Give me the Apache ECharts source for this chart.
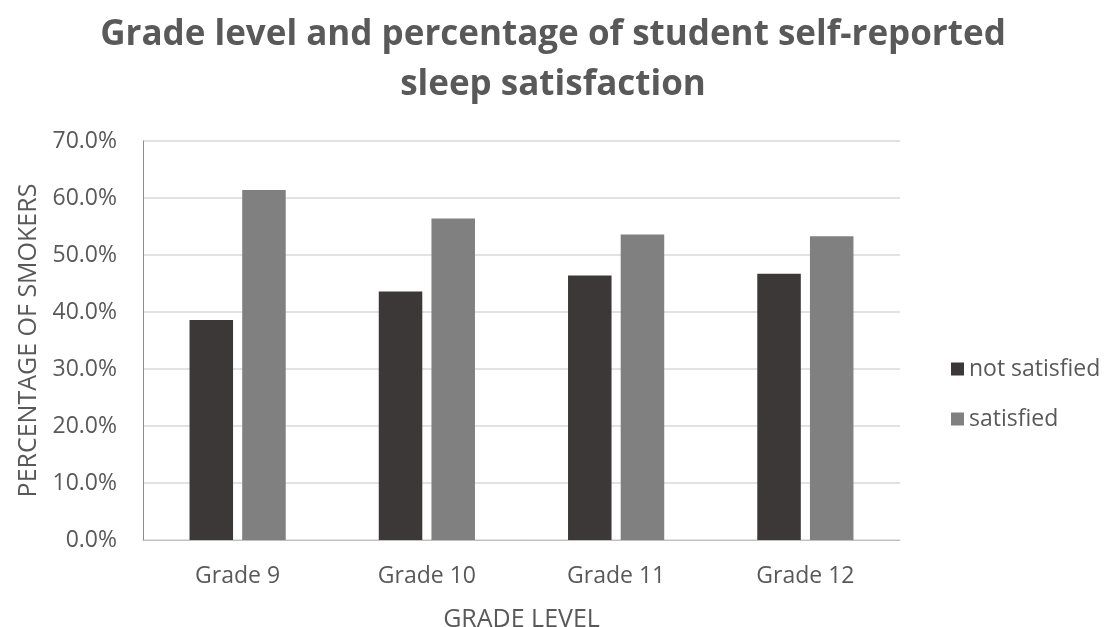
<!DOCTYPE html>
<html>
<head>
<meta charset="utf-8">
<script src="https://cdn.jsdelivr.net/npm/echarts@6/dist/echarts.min.js"></script>
<style>
  html, body { margin: 0; padding: 0; background: #ffffff; }
  #chart { width: 1104px; height: 627px; }
</style>
</head>
<body>
<div id="chart"></div>
<script>
// Grade levels on the category axis
const grades = ['Grade 9', 'Grade 10', 'Grade 11', 'Grade 12'];
// Share of students per grade (percent)
const notSatisfied = [38.6, 43.6, 46.4, 46.7];
const satisfied = [61.4, 56.4, 53.6, 53.3];
// Value axis range (percent)
const yMin = 0;
const yMax = 70;
const yStep = 10;

const textColor = '#595959';
const fontFamily = '"Open Sans", "Noto Sans", sans-serif';

const chart = echarts.init(document.getElementById('chart'), null, { renderer: 'canvas' });

chart.setOption({
  backgroundColor: '#ffffff',
  animation: false,
  title: {
    text: 'Grade level and percentage of student self-reported\nsleep satisfaction',
    left: 548,
    top: 5,
    textAlign: 'center',
    textStyle: {
      color: textColor,
      fontFamily: fontFamily,
      fontWeight: 'bold',
      fontSize: 35,
      lineHeight: 50
    }
  },
  legend: {
    orient: 'vertical',
    left: 946,
    top: 352,
    itemWidth: 13,
    itemHeight: 13,
    itemGap: 26,
    icon: 'rect',
    data: ['not satisfied', 'satisfied'],
    textStyle: { color: textColor, fontFamily: fontFamily, fontSize: 23, lineHeight: 24 }
  },
  grid: { left: 143, right: 204, top: 141, bottom: 87, outerBoundsMode: 'none', containLabel: false },
  xAxis: {
    type: 'category',
    data: grades,
    name: 'GRADE LEVEL',
    nameLocation: 'middle',
    nameGap: 67,
    nameTextStyle: { color: textColor, fontFamily: fontFamily, fontSize: 25 },
    axisLine: { show: true, lineStyle: { color: '#bfbfbf', width: 1 } },
    axisTick: { show: false },
    axisLabel: { color: textColor, fontFamily: fontFamily, fontSize: 23, margin: 25 }
  },
  yAxis: {
    type: 'value',
    min: yMin,
    max: yMax,
    interval: yStep,
    name: 'PERCENTAGE OF SMOKERS',
    nameLocation: 'middle',
    nameGap: 100,
    nameRotate: 90,
    nameTextStyle: { color: textColor, fontFamily: fontFamily, fontSize: 25 },
    axisLine: { show: true, lineStyle: { color: '#8c8c8c', width: 1 } },
    axisTick: { show: false },
    axisLabel: {
      color: textColor,
      fontFamily: fontFamily,
      fontSize: 23,
      margin: 26,
      formatter: v => v.toFixed(1) + '%'
    },
    splitLine: { show: true, lineStyle: { color: '#d9d9d9', width: 1.5 } }
  },
  series: [
    {
      name: 'not satisfied',
      type: 'bar',
      data: notSatisfied,
      barWidth: '23%',
      barGap: '21%',
      itemStyle: { color: '#3c3837' }
    },
    {
      name: 'satisfied',
      type: 'bar',
      data: satisfied,
      barWidth: '23%',
      itemStyle: { color: '#808080' }
    }
  ]
});
</script>
</body>
</html>
